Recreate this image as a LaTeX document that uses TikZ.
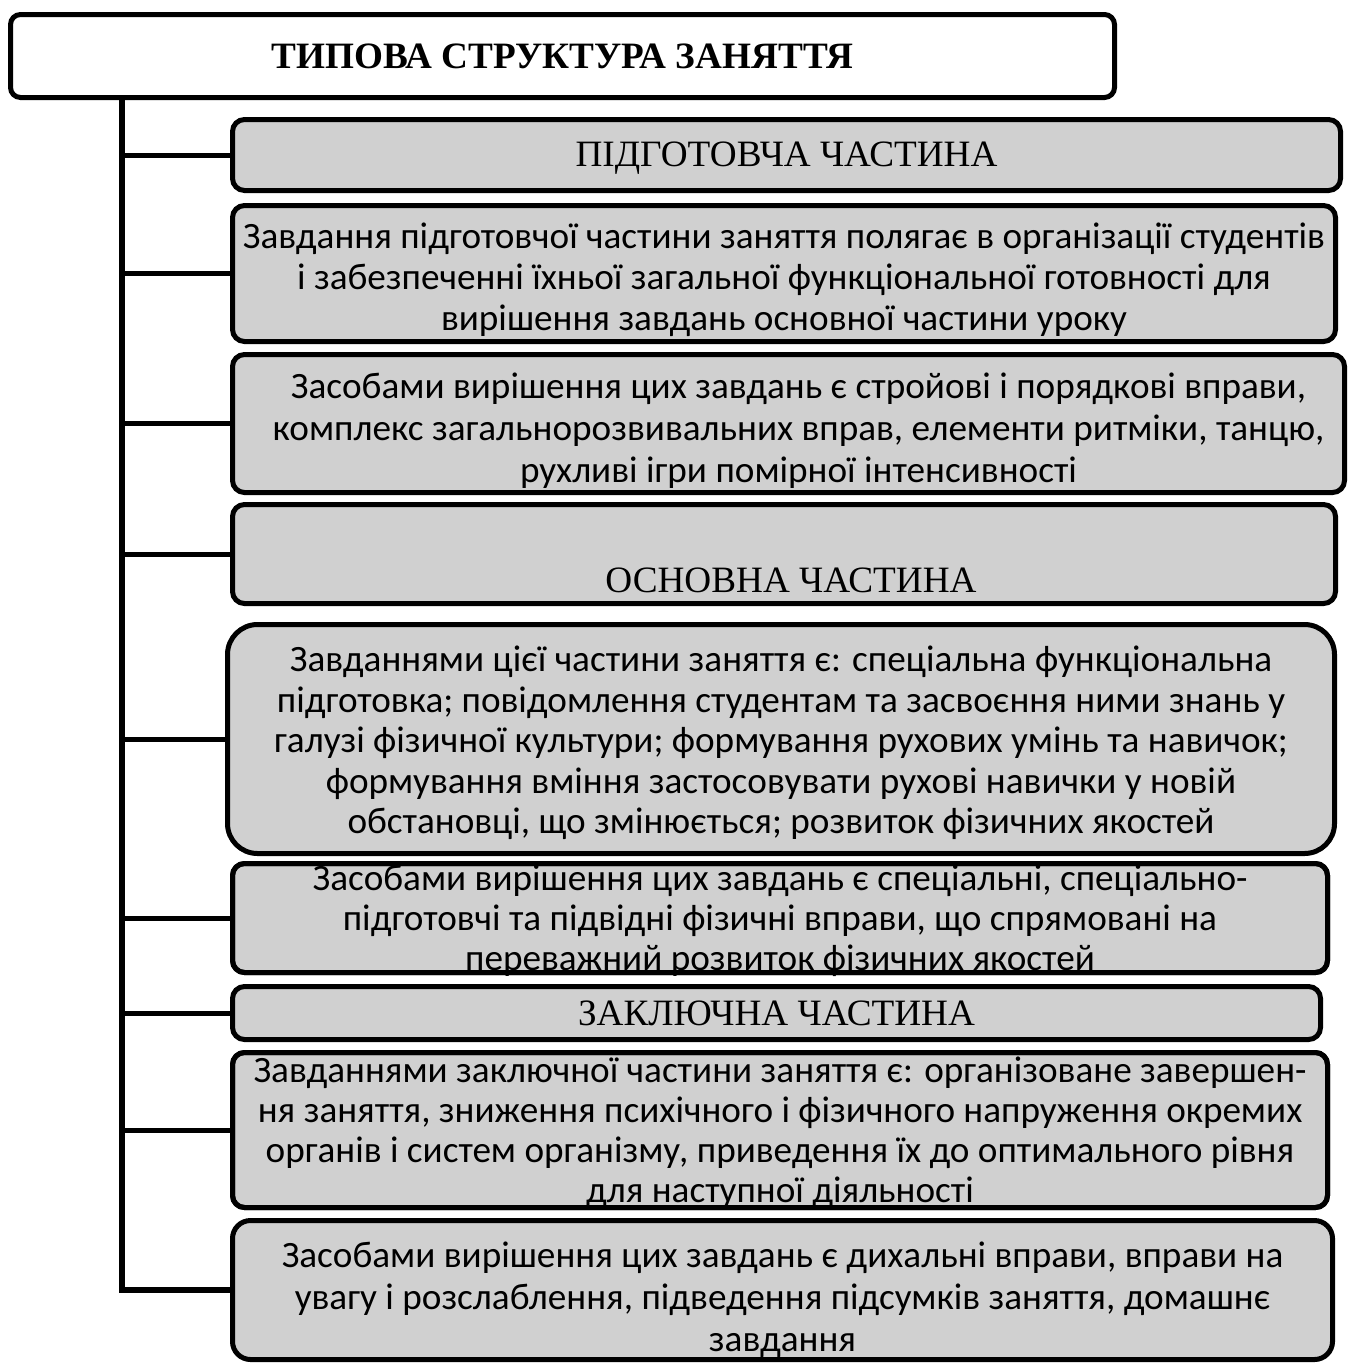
\documentclass[tikz,border=0pt]{standalone}
\usepackage{fontspec}
\setmainfont{Liberation Serif}
\newfontfamily\bodyfont{Carlito}
\definecolor{boxgray}{RGB}{208,208,208}
\tikzset{
  partbox/.style={draw,line width=2.5pt,fill=boxgray,rounded corners=6pt,inner sep=0pt,outer sep=0pt},
  headtext/.style={font=\fontsize{18.6}{21}\selectfont,align=center},
  bodytext/.style={font=\bodyfont\fontsize{18.6}{21}\selectfont,align=center},
  tighttext/.style={bodytext,font=\bodyfont\fontsize{18.6}{20}\selectfont},
}
% name, extra style, outer corners x1 y1 x2 y2 (px)
\newcommand{\stagebox}[6]{%
  \node[partbox,#2,minimum width={(#5-#3-5)*0.5pt},minimum height={(#6-#4-5)*0.5pt}]
    (#1) at ({(#3+#5)/2},{(#4+#6)/2}) {};}
\begin{document}
\begin{tikzpicture}[x=0.5pt,y=-0.5pt,line width=2.5pt]
  \useasboundingbox (0,0) rectangle (1348,1365);
  \stagebox{title}{fill=white,rounded corners=5pt}{8}{12}{1117}{100}
  \stagebox{b1}{}{230}{117}{1343}{193}
  \stagebox{b2}{}{230}{203}{1338}{344}
  \stagebox{b3}{}{230}{352}{1347}{495}
  \stagebox{b4}{}{230}{502}{1338}{606}
  \stagebox{b5}{rounded corners=15pt}{225}{622}{1337}{856}
  \stagebox{b6}{}{230}{861}{1330}{975}
  \stagebox{b7}{}{230}{984}{1323}{1042}
  \stagebox{b8}{}{230}{1050}{1330}{1210}
  \stagebox{b9}{rounded corners=9pt}{230}{1218}{1335}{1362}

  \coordinate (trunk) at (122,100);
  \draw[line width=3pt] (trunk) |- (b9.west);
  \foreach \i in {1,...,8}
    \draw (trunk |- b\i.west) -- (b\i.west);

  \node[headtext,font=\fontsize{18.6}{21}\selectfont\bfseries] at (title) {ТИПОВА СТРУКТУРА ЗАНЯТТЯ};
  \node[headtext] at ([yshift=-1.5pt]b1.center) {ПІДГОТОВЧА ЧАСТИНА};
  \node[bodytext,font=\bodyfont\fontsize{18.6}{20.5}\selectfont] at ([yshift=-3pt]b2.center) {Завдання підготовчої частини заняття полягає в організації студентів\\
    і забезпеченні їхньої загальної функціональної готовності для\\
    вирішення завдань основної частини уроку};
  \node[bodytext] at ([xshift=5pt,yshift=-3.5pt]b3.center) {Засобами вирішення цих завдань є стройові і порядкові вправи,\\
    комплекс загальнорозвивальних вправ, елементи ритміки, танцю,\\
    рухливі ігри помірної інтенсивності};
  \node[headtext] at ([xshift=3.5pt,yshift=-13pt]b4.center) {ОСНОВНА ЧАСТИНА};
  \node[bodytext,font=\bodyfont\fontsize{18.6}{20.3}\selectfont] at ([yshift=-2pt]b5.center) {Завданнями цієї частини заняття є: спеціальна функціональна\\
    підготовка; повідомлення студентам та засвоєння ними знань у\\
    галузі фізичної культури; формування рухових умінь та навичок;\\
    формування вміння застосовувати рухові навички у новій\\
    обстановці, що змінюється; розвиток фізичних якостей};
  \node[tighttext] at ([yshift=-1.5pt]b6.center) {Засобами вирішення цих завдань є спеціальні, спеціально-\\
    підготовчі та підвідні фізичні вправи, що спрямовані на\\
    переважний розвиток фізичних якостей};
  \node[headtext] at (b7) {ЗАКЛЮЧНА ЧАСТИНА};
  \node[tighttext] at ([yshift=-1.5pt]b8.center) {Завданнями заключної частини заняття є: організоване завершен-\\
    ня заняття, зниження психічного і фізичного напруження окремих\\
    органів і систем організму, приведення їх до оптимального рівня\\
    для наступної діяльності};
  \node[bodytext] at ([yshift=-5pt]b9.center) {Засобами вирішення цих завдань є дихальні вправи, вправи на\\
    увагу і розслаблення, підведення підсумків заняття, домашнє\\
    завдання};
  % borders over the overflowing last lines
  \foreach \i in {6,8}
    \draw[rounded corners=6pt] (b\i.south west) rectangle (b\i.north east);
\end{tikzpicture}
\end{document}
